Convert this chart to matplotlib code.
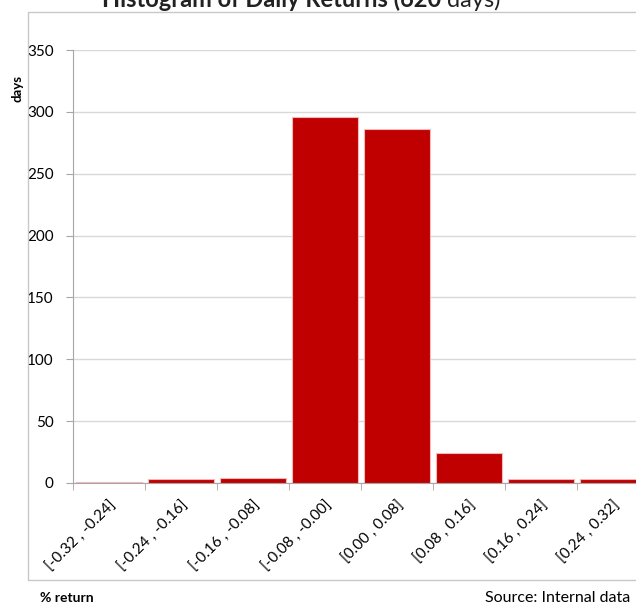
import matplotlib.pyplot as plt
from matplotlib.patches import Rectangle

plt.rcParams['font.family'] = ['Lato', 'DejaVu Sans']

# data
bins = ['[-0.32 , -0.24]', '[-0.24 , -0.16]', '[-0.16 , -0.08]', '[-0.08 , -0.00]',
        '[0.00 , 0.08]', '[0.08 , 0.16]', '[0.16 , 0.24]', '[0.24 , 0.32]']
days = [1, 3, 4, 296, 286, 24, 3, 3]
y_ticks = [0, 50, 100, 150, 200, 250, 300, 350]

W, H = 636, 606
fig = plt.figure(figsize=(W / 100, H / 100), dpi=100)

# outer frame of the chart area
fig.patches.append(Rectangle((28 / W, 1 - 580 / H), 1.0, (580 - 12) / H,
                             transform=fig.transFigure, fill=False,
                             edgecolor='#c8c8c8', linewidth=1.0))

ax = fig.add_axes([73 / W, 1 - 483 / H, (649 - 73) / W, (483 - 50) / H])

x = list(range(len(bins)))
ax.bar(x, days, width=0.92, color='#c00000', edgecolor='#f0b8b8', linewidth=0.8, zorder=3)

ax.set_xlim(-0.5, len(bins) - 0.5)
ax.set_ylim(0, 350)
ax.set_yticks(y_ticks)
ax.grid(axis='y', color='#d9d9d9', linewidth=1.0, zorder=0)

ax.set_xticks(x)
ax.set_xticklabels(bins, rotation=45, ha='right', va='top', rotation_mode='anchor', fontsize=11)
ax.set_xticks([i - 0.5 for i in range(len(bins) + 1)], minor=True)
ax.tick_params(axis='x', which='major', length=0, pad=11)
ax.tick_params(axis='x', which='minor', length=5, color='#a6a6a6', direction='out')
ax.tick_params(axis='y', length=5, color='#a6a6a6', labelsize=11, pad=9)

for s in ['top', 'right']:
    ax.spines[s].set_visible(False)
for s in ['left', 'bottom']:
    ax.spines[s].set_color('#a6a6a6')

# texts
fig.text(447 / W, 1 - 7 / H, 'Histogram of Daily Returns (620 ', fontsize=17, fontweight='bold',
         ha='right', va='baseline', color='#222222')
fig.text(447 / W, 1 - 7 / H, 'days)', fontsize=17, ha='left', va='baseline', color='#222222')
fig.text(17 / W, 1 - 88 / H, 'days', rotation=90, fontsize=9.5, fontweight='bold',
         ha='center', va='center')
fig.text(40 / W, 1 - 598 / H, '% return', fontsize=10, fontweight='bold', ha='left', va='center')
fig.text(630 / W, 1 - 598 / H, 'Source: Internal data', fontsize=11.5, ha='right', va='center')

fig.savefig('out.png', dpi=100)
